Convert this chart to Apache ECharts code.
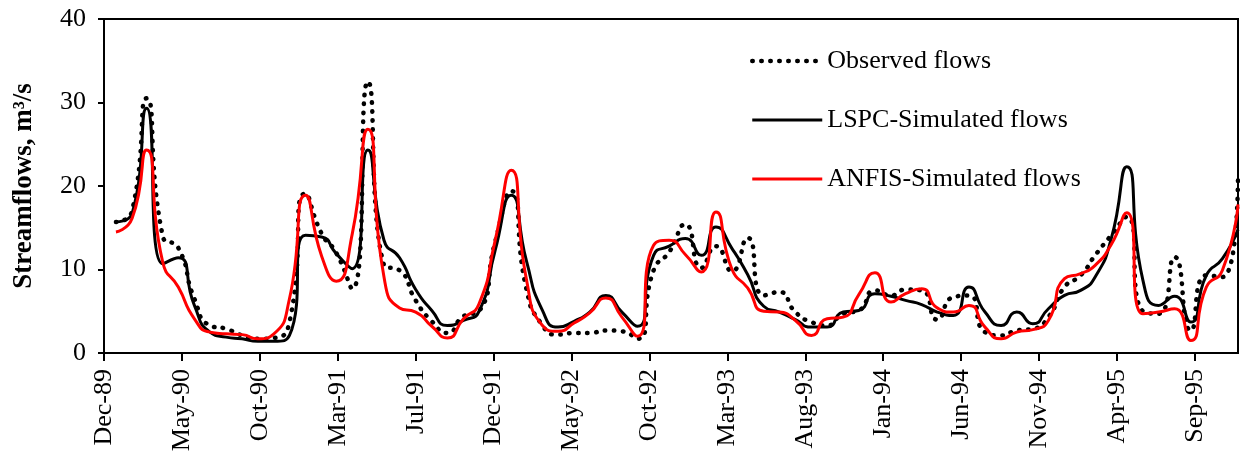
<!DOCTYPE html>
<html>
<head>
<meta charset="utf-8">
<script src="https://cdn.jsdelivr.net/npm/echarts@6/dist/echarts.min.js"></script>
<style>
html,body{margin:0;padding:0;background:#fff;}
#chart{width:1240px;height:456px;}
</style>
</head>
<body>
<div id="chart"></div>
<script>
// Monthly observations (month-end dates)
const months = [
  '1989-12',
  '1990-01','1990-02','1990-03','1990-04','1990-05','1990-06','1990-07','1990-08','1990-09','1990-10','1990-11','1990-12',
  '1991-01','1991-02','1991-03','1991-04','1991-05','1991-06','1991-07','1991-08','1991-09','1991-10','1991-11','1991-12',
  '1992-01','1992-02','1992-03','1992-04','1992-05','1992-06','1992-07','1992-08','1992-09','1992-10','1992-11','1992-12',
  '1993-01','1993-02','1993-03','1993-04','1993-05','1993-06','1993-07','1993-08','1993-09','1993-10','1993-11','1993-12',
  '1994-01','1994-02','1994-03','1994-04','1994-05','1994-06','1994-07','1994-08','1994-09','1994-10','1994-11','1994-12',
  '1995-01','1995-02','1995-03','1995-04','1995-05','1995-06','1995-07','1995-08','1995-09','1995-10','1995-11'
];

const observed = [
  15.7, 17.0, 30.5, 14.0, 12.6, 6.5, 3.3, 2.9, 2.1, 1.7, 1.8, 3.7,
  19.1, 14.3, 12.0, 7.7, 32.5, 10.5, 9.9, 6.3, 3.8, 2.4, 4.4, 5.0,
  13.3, 19.4, 7.7, 3.3, 2.2, 2.4, 2.4, 2.7, 2.6, 1.7, 9.9, 12.1,
  15.4, 10.2, 12.8, 9.8, 13.8, 6.9, 7.3, 4.9, 3.7, 3.3, 4.7, 5.1,
  7.5, 6.9, 7.6, 7.5, 4.0, 6.7, 6.9, 2.5, 2.1, 2.7, 2.9, 4.3,
  7.9, 9.3, 11.7, 14.1, 16.3, 5.0, 4.7, 11.5, 2.7, 9.3, 9.1, 21.3
];

const lspc = [
  15.7, 16.7, 29.3, 10.7, 11.4, 5.7, 2.5, 1.9, 1.7, 1.4, 1.4, 2.1,
  14.1, 13.9, 11.9, 10.1, 24.3, 13.5, 11.4, 7.6, 5.1, 3.3, 3.9, 5.0,
  12.3, 18.9, 11.1, 5.1, 3.1, 3.8, 4.9, 6.9, 4.9, 3.2, 11.7, 12.8,
  13.7, 11.7, 15.1, 12.5, 9.4, 5.6, 4.9, 4.0, 3.1, 3.1, 4.9, 5.1,
  7.1, 6.8, 6.3, 5.8, 4.9, 4.5, 7.9, 4.9, 3.3, 4.9, 3.5, 5.3,
  6.9, 7.5, 9.1, 13.7, 22.3, 8.7, 5.7, 6.8, 3.7, 9.3, 11.3, 14.8
];

const anfis = [
  14.5, 16.1, 24.3, 10.9, 7.9, 4.1, 2.5, 2.3, 2.2, 1.7, 2.3, 6.5,
  18.9, 11.6, 8.6, 14.3, 26.8, 9.1, 5.4, 4.9, 3.2, 1.8, 4.1, 5.9,
  13.5, 21.9, 8.9, 3.3, 2.6, 3.6, 4.8, 6.6, 4.3, 2.0, 12.9, 13.5,
  11.8, 9.7, 16.9, 10.0, 7.8, 5.0, 4.9, 3.9, 2.1, 4.1, 4.3, 7.0,
  9.6, 6.1, 7.1, 7.7, 5.4, 4.9, 5.7, 3.1, 1.7, 2.5, 2.8, 3.9,
  8.9, 9.5, 10.5, 13.0, 16.8, 4.7, 4.9, 5.3, 1.5, 7.9, 9.9, 17.8
];

const tickLabels = ['Dec-89','May-90','Oct-90','Mar-91','Jul-91','Dec-91','May-92','Oct-92',
                    'Mar-93','Aug-93','Jan-94','Jun-94','Nov-94','Apr-95','Sep-95'];

const seriesNames = ['Observed flows', 'LSPC-Simulated flows', 'ANFIS-Simulated flows'];

// Date axis: days counted from the axis start, major unit 150 days
const axisStartUTC = Date.UTC(1989, 11, 8);
const axisEndUTC = Date.UTC(1995, 10, 30);
const tickStepDays = 150;
const DAY = 86400000;

function monthEndOffset(ym) {
  const p = ym.split('-').map(Number);
  return (Date.UTC(p[0], p[1], 0) - axisStartUTC) / DAY;
}
function pairs(values) {
  return months.map(function (ym, i) { return [monthEndOffset(ym), values[i]]; });
}

const FONT = 'Liberation Serif';
const tickValues = tickLabels.map(function (_, k) { return k * tickStepDays; });
const SMOOTH = 0.6;

const dottedStyle = {color: '#000', width: 4.5, type: [0.5, 8.5], cap: 'round'};
const blackStyle = {color: '#000', width: 3};
const redStyle = {color: '#ff0000', width: 3};

const chart = echarts.init(document.getElementById('chart'), null, {renderer: 'canvas'});
chart.setOption({
  animation: false,
  backgroundColor: '#ffffff',
  grid: {
    left: 104, right: 2, top: 19, bottom: 103,
    show: true, borderColor: '#000', borderWidth: 2, backgroundColor: 'transparent'
  },
  legend: {
    orient: 'vertical',
    left: 745, top: 43,
    itemWidth: 70, itemHeight: 14, itemGap: 33,
    textStyle: {fontFamily: FONT, fontSize: 26, color: '#000'},
    itemStyle: {opacity: 0},
    data: [
      {name: seriesNames[0], lineStyle: dottedStyle},
      {name: seriesNames[1], lineStyle: blackStyle},
      {name: seriesNames[2], lineStyle: redStyle}
    ]
  },
  xAxis: {
    type: 'value',
    min: 0,
    max: (axisEndUTC - axisStartUTC) / DAY,
    interval: tickStepDays,
    axisLine: {show: true, lineStyle: {color: '#000', width: 2}},
    axisTick: {show: true, length: 8, lineStyle: {color: '#000', width: 2}, customValues: tickValues},
    splitLine: {show: false},
    axisLabel: {
      customValues: tickValues,
      rotate: 90, margin: 16,
      fontFamily: FONT, fontSize: 26, color: '#000',
      formatter: function (v) {
        const k = Math.round(v / tickStepDays);
        return tickLabels[k] || '';
      }
    }
  },
  yAxis: {
    type: 'value',
    min: 0, max: 40, interval: 10,
    name: 'Streamflows, m³/s',
    nameLocation: 'middle',
    nameGap: 66,
    nameTextStyle: {fontFamily: FONT, fontSize: 27, fontWeight: 'bold', color: '#000'},
    axisLine: {show: true, lineStyle: {color: '#000', width: 2}},
    axisTick: {show: true, length: 6, lineStyle: {color: '#000', width: 2}},
    splitLine: {show: false},
    axisLabel: {margin: 18, fontFamily: FONT, fontSize: 26, color: '#000'}
  },
  series: [
    {
      name: seriesNames[0], type: 'line', data: pairs(observed),
      smooth: SMOOTH, symbol: 'none', clip: true,
      lineStyle: dottedStyle,
      itemStyle: {color: '#000'}
    },
    {
      name: seriesNames[1], type: 'line', data: pairs(lspc),
      smooth: SMOOTH, symbol: 'none', clip: true,
      lineStyle: blackStyle,
      itemStyle: {color: '#000'}
    },
    {
      name: seriesNames[2], type: 'line', data: pairs(anfis),
      smooth: SMOOTH, symbol: 'none', clip: true,
      lineStyle: redStyle,
      itemStyle: {color: '#ff0000'}
    }
  ]
});
</script>
</body>
</html>
